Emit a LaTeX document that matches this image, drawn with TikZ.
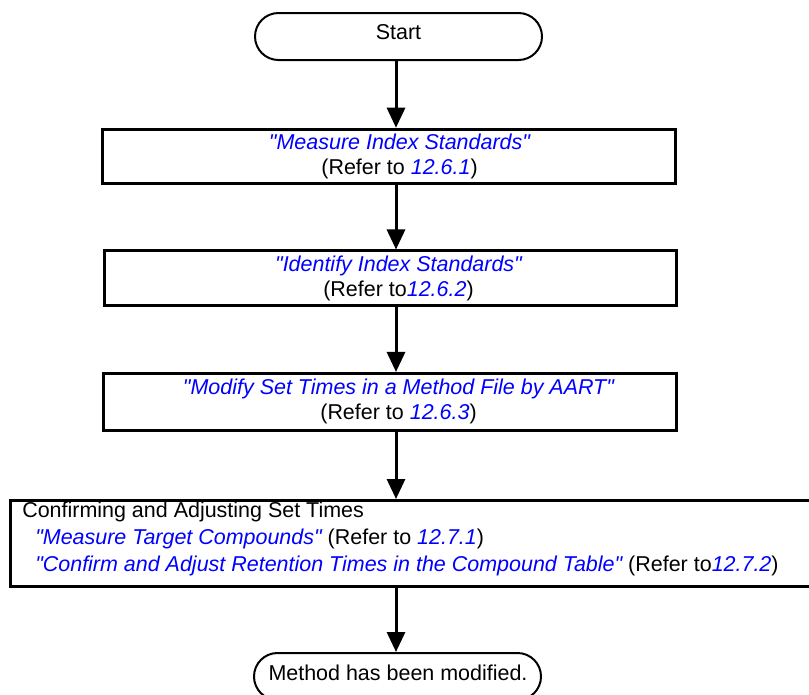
\documentclass[tikz,border=0pt]{standalone}
\usepackage{fontspec}
\setmainfont{Liberation Sans}
\newfontfamily\lsans{Liberation Sans}
\usetikzlibrary{arrows.meta,shapes.misc}
\definecolor{linkblue}{RGB}{0,0,255}
\newcommand{\lk}[1]{{\color{linkblue}\itshape #1}}
\newcommand{\qq}{"}
\begin{document}
\begin{tikzpicture}[x=0.75pt,y=-0.75pt,
  box/.style={draw, line width=2.25pt, inner sep=0pt, rectangle},
  term/.style={draw, line width=1.5pt, rounded rectangle, rounded rectangle arc length=180,
    minimum width=215.25pt, minimum height=35.25pt, inner sep=0pt},
  txt/.style={inner sep=0pt, align=center, font=\lsans\fontsize{16.1pt}{18.75pt}\selectfont},
  ltxt/.style={inner sep=0pt, align=left, anchor=west, font=\lsans\fontsize{16.1pt}{20pt}\selectfont},
  arr/.style={line width=2.25pt, -{Triangle[length=15pt,width=13.5pt]}}]
\useasboundingbox (0,0) rectangle (809,694);
\clip (0,0) rectangle (809,694);
\coordinate (ax) at (396,0);
% terminals
\node[term] (start) at (398.5,36.5) {};
\node[txt] (tstart) at (398.5,32) {Start};
\node[term] (end) at (397.5,676.5) {};
\node[txt] (tend) at (398,673) {Method has been modified.};
% boxes
\node[box, minimum width=429.4pt, minimum height=41.06pt] (b1) at (388.75,156.6) {};
\node[txt] (t1) at (399.5,156) {\lk{\qq Measure Index Standards\qq}\\(Refer to \lk{12.6.1})};
\node[box, minimum width=429pt, minimum height=40.9pt] (b2) at (390.5,278.25) {};
\node[txt] (t2) at (398.5,278) {\lk{\qq Identify Index Standards\qq}\\(Refer to\lk{12.6.2})};
\node[box, minimum width=429.4pt, minimum height=42.4pt] (b3) at (389.75,401.75) {};
\node[txt] (t3) at (398.5,401) {\lk{\qq Modify Set Times in a Method File by AART\qq}\\(Refer to \lk{12.6.3})};
\node[box, minimum width=622.1pt, minimum height=64.5pt] (b4) at (425.25,543.5) {};
\node[ltxt] (t4) at (22,539) {Confirming and Adjusting Set Times\\
\hspace*{9.75pt}\lk{\qq Measure Target Compounds\qq} (Refer to \lk{12.7.1})\\
\hspace*{9.75pt}\lk{\qq Confirm and Adjust Retention Times in the Compound Table\qq} (Refer to\lk{12.7.2})};
% connectors
\draw[arr] (start.south -| ax) -- (b1.north -| ax);
\draw[arr] (b1.south -| ax) -- (b2.north -| ax);
\draw[arr] (b2.south -| ax) -- (b3.north -| ax);
\draw[arr] (b3.south -| ax) -- (b4.north -| ax);
\draw[arr] (b4.south -| ax) -- (end.north -| ax);
\end{tikzpicture}
\end{document}
